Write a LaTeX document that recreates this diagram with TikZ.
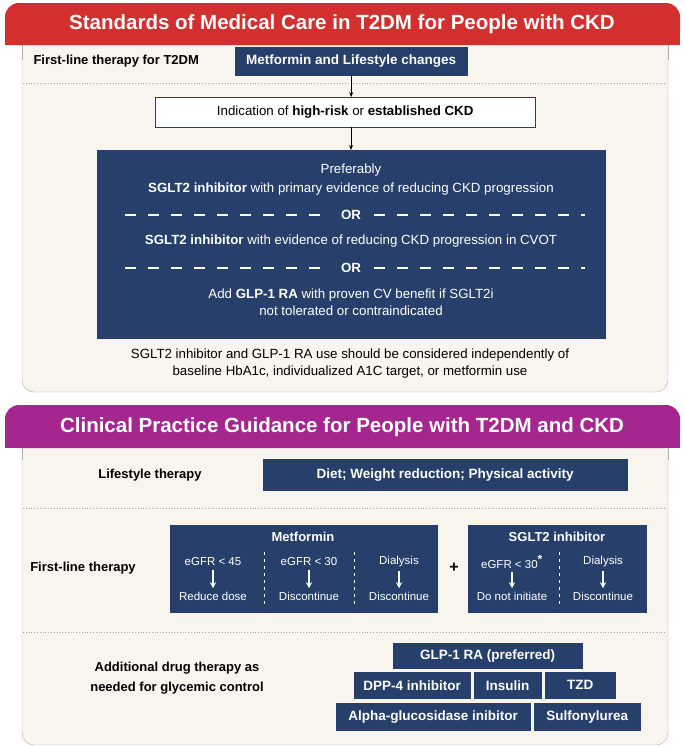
\documentclass[tikz,border=0pt]{standalone}
\usepackage{fontspec}
\setmainfont{Liberation Sans}
\usetikzlibrary{arrows.meta}
\begin{document}
\definecolor{navy}{HTML}{27406B}
\definecolor{bg}{HTML}{F8F4EE}
\definecolor{hred}{HTML}{D32F2F}
\definecolor{hpur}{HTML}{A5268F}
\begin{tikzpicture}[x=1pt,y=-1pt,
 nb/.style={draw=navy,fill=navy,text=white,font=\bfseries\fontsize{13.5}{16}\selectfont,inner sep=0,anchor=north west},
 txt/.style={font=\fontsize{13.3}{16}\selectfont},
 arr/.style={-{Stealth[length=5pt,width=4pt]},line width=0.8pt},
 warr/.style={white,-{Stealth[length=6pt,width=6pt]},line width=1.2pt},
 sep/.style={white,dash pattern=on 3pt off 4pt,line width=0.7pt},
 hdr/.style={text=white,font=\bfseries\fontsize{20.5}{24}\selectfont}]
\path[use as bounding box] (0,0) rectangle (685,747);
\fill[white] (0,0) rectangle (685,747);
% top panel
\draw[gray!60,fill=bg,rounded corners=12pt] (22,30) -- (22,392) -- (668,392) -- (668,30);
\fill[bg] (23,30) rectangle (667,60);
\draw[gray!60] (22,30) -- (22,60) (668,30)--(668,60);
\fill[hred,rounded corners=14pt] (5,45) -- (5,3) -- (680,3) -- (680,45) -- cycle;
\fill[hred] (5,30) rectangle (680,45);
\node[hdr] (h1) at (342,24) {Standards of Medical Care in T2DM for People with CKD};
\draw[gray!70,dotted,line width=0.8pt] (23,83) -- (667,83);
\node[anchor=west,font=\bfseries\fontsize{13}{16}\selectfont] (fl) at (30,61) {First-line therapy for T2DM};
\node[nb,minimum width=232,minimum height=28] (met) at (235,47) {Metformin and Lifestyle changes};
\node[draw=navy,fill=white,inner sep=0,anchor=north west,minimum width=380,minimum height=30,txt] (ind) at (155,97) {Indication of \textbf{high-risk} or \textbf{established CKD}};
\draw[arr] (met.south) -- (met.south |- ind.north);
\node[nb,minimum width=508,minimum height=188] (big) at (97,150) {};
\coordinate (a2) at (351,127);
\draw[arr] (a2) -- (a2 |- big.north);
\begin{scope}[every node/.style={text=white,font=\fontsize{13.3}{16}\selectfont}]
\node (p1) at (351,170) {Preferably};
\node (p2) at (351,189) {\textbf{SGLT2 inhibitor} with primary evidence of reducing CKD progression};
\node (or1) at (351,215) {\textbf{OR}};
\node (p3) at (351,241) {\textbf{SGLT2 inhibitor} with evidence of reducing CKD progression in CVOT};
\node (or2) at (351,268) {\textbf{OR}};
\node (p4) at (351,295) {Add \textbf{GLP-1 RA} with proven CV benefit if SGLT2i};
\node (p5) at (351,311) {not tolerated or contraindicated};
\end{scope}
\foreach \y in {215,268}{
 \draw[white,line width=1.3pt,dash pattern=on 11pt off 12pt] (125,\y) -- (328,\y);
 \draw[white,line width=1.3pt,dash pattern=on 11pt off 12pt] (374,\y) -- (585,\y);}
\node[txt] (n1) at (350,355) {SGLT2 inhibitor and GLP-1 RA use should be considered independently of};
\node[txt] (n2) at (350,372) {baseline HbA1c, individualized A1C target, or metformin use};
% bottom panel
\draw[gray!60,fill=bg,rounded corners=12pt] (22,430) -- (22,745) -- (668,745) -- (668,430);
\fill[bg] (23,430) rectangle (667,460);
\draw[gray!60] (22,430) -- (22,460) (668,430)--(668,460);
\fill[hpur,rounded corners=14pt] (5,448) -- (5,405) -- (680,405) -- (680,448) -- cycle;
\fill[hpur] (5,430) rectangle (680,448);
\node[hdr] (h2) at (342,427) {Clinical Practice Guidance for People with T2DM and CKD};
\draw[gray!70,dotted,line width=0.8pt] (23,508) -- (667,508) (23,632) -- (667,632);
\node[font=\bfseries\fontsize{13}{16}\selectfont] (ls) at (150,475) {Lifestyle therapy};
\node[nb,minimum width=364,minimum height=31] (diet) at (263,459) {Diet; Weight reduction; Physical activity};
\node[font=\bfseries\fontsize{13}{16}\selectfont] (flt) at (83,568) {First-line therapy};
\node[nb,minimum width=267,minimum height=87] (mbox) at (170,525) {};
\node[text=white,font=\bfseries\fontsize{13}{16}\selectfont] (mt) at (303,537) {Metformin};
\node[nb,minimum width=178,minimum height=87] (sbox) at (468,525) {};
\node[text=white,font=\bfseries\fontsize{13}{16}\selectfont] (st) at (557,537) {SGLT2 inhibitor};
\node[font=\bfseries\fontsize{16}{16}\selectfont] (plus) at (454,568) {+};
\draw[sep] (264,552) -- (264,608) (354,552) -- (354,608) (559,552) -- (559,608);
\foreach \x/\a/\b/\n in {213/eGFR < 45/Reduce dose/a, 309/eGFR < 30/Discontinue/b, 399/Dialysis/Discontinue/c, 512/eGFR < 30\textsuperscript{\bfseries\large *}/Do not initiate/d, 603/Dialysis/Discontinue/e}{
 \node[text=white,font=\fontsize{11.5}{13}\selectfont] (t\n) at (\x,562) {\a};
 \node[text=white,font=\fontsize{11.5}{13}\selectfont] (u\n) at (\x,596) {\b};
 \draw[warr] (t\n.south) -- (u\n.north);}
\node[font=\bfseries\fontsize{13}{20}\selectfont,align=center] (add) at (177,678) {Additional drug therapy as\\needed for glycemic control};
\node[nb,minimum width=189,minimum height=25] (glp) at (393,643) {GLP-1 RA (preferred)};
\node[nb,minimum width=116,minimum height=26] (dpp) at (354,672) {DPP-4 inhibitor};
\node[nb,minimum width=67,minimum height=26] (ins) at (474,672) {Insulin};
\node[nb,minimum width=70,minimum height=26] (tzd) at (545,672) {TZD};
\node[nb,minimum width=194,minimum height=27] (alp) at (336,703) {Alpha-glucosidase inibitor};
\node[nb,minimum width=106,minimum height=27] (sul) at (534,703) {Sulfonylurea};
\end{tikzpicture}
\end{document}
